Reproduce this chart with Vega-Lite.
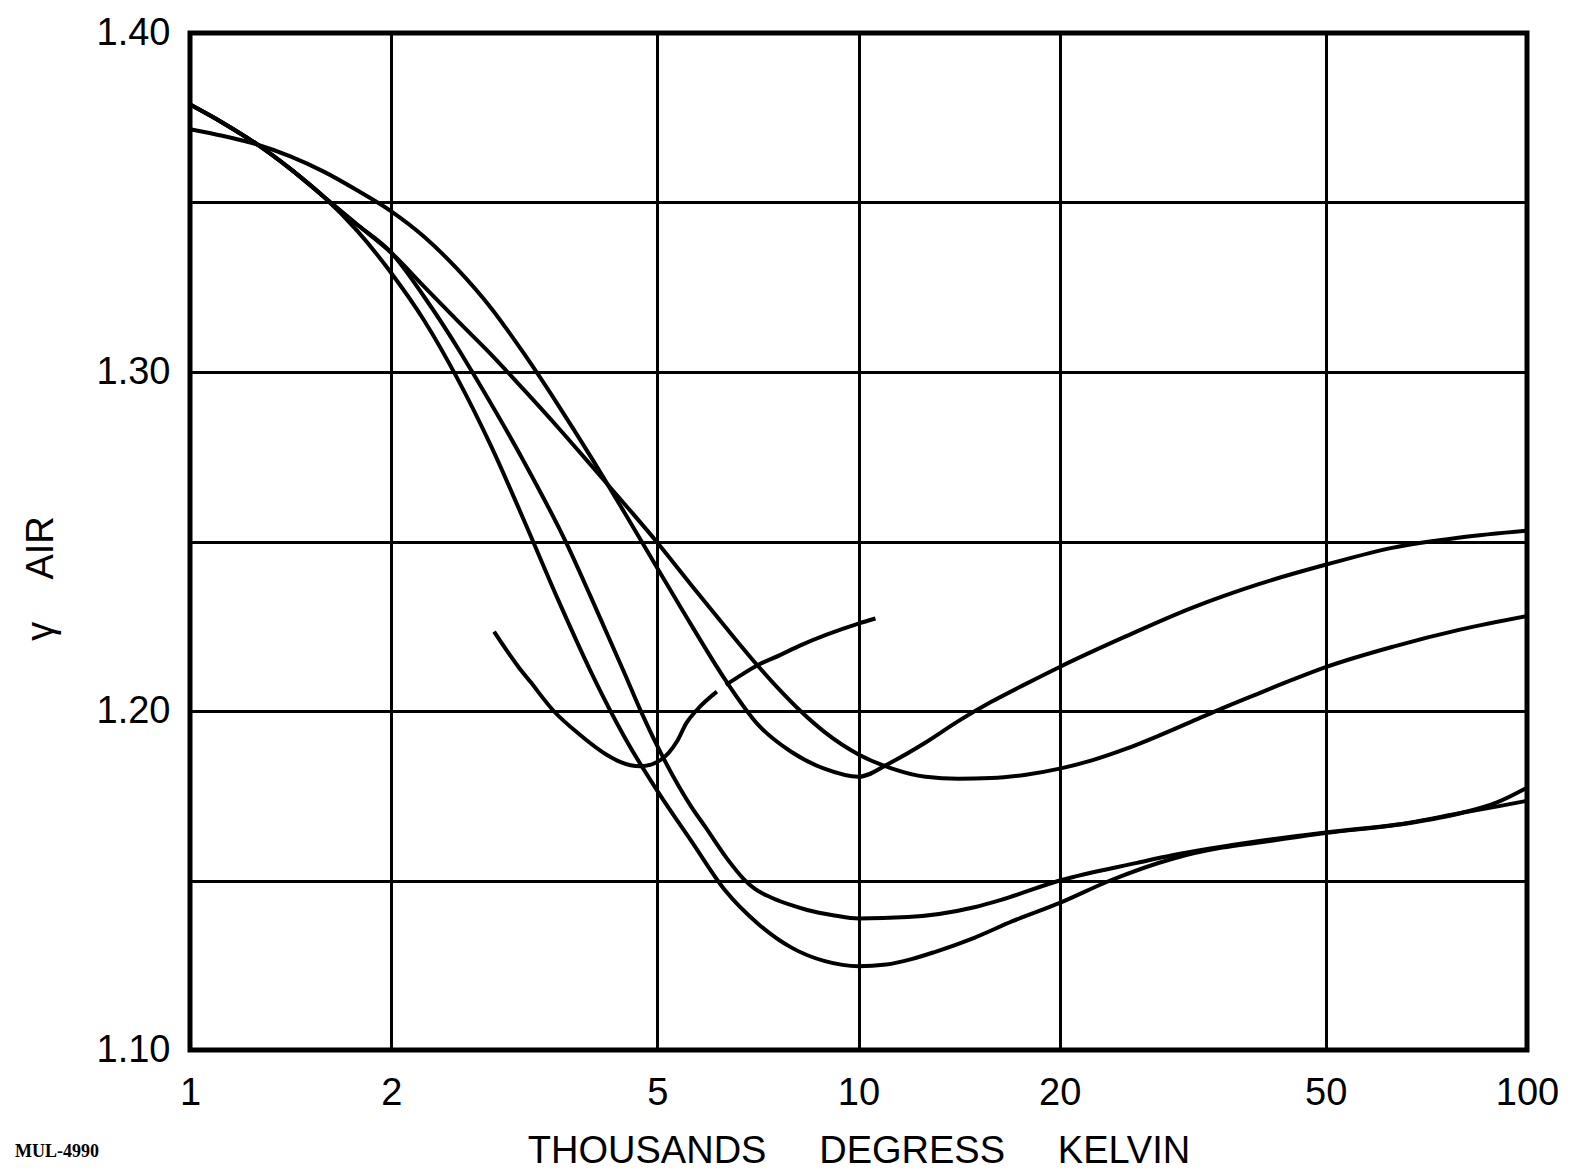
{
  "$schema": "https://vega.github.io/schema/vega-lite/v6.json",
  "width": 1337,
  "height": 1017,
  "autosize": {"type": "none"},
  "padding": {"left": 190, "top": 33, "right": 58, "bottom": 124},
  "background": "white",
  "title": {"text": "MUL-4990", "orient": "bottom", "anchor": "start", "frame": "group", "font": "Liberation Serif", "fontSize": 18, "fontWeight": "bold", "color": "black", "dx": -175, "offset": -13, "baseline": "alphabetic"},
  "config": {"view": {"stroke": "black", "strokeWidth": 5}, "font": "Liberation Sans"},
  "data": {"values": [
    {"c": "U1", "t": 1, "g": 1.3716},
    {"c": "U1", "t": 1.122, "g": 1.3696},
    {"c": "U1", "t": 1.259, "g": 1.3671},
    {"c": "U1", "t": 1.413, "g": 1.3636},
    {"c": "U1", "t": 1.585, "g": 1.3591},
    {"c": "U1", "t": 1.778, "g": 1.3536},
    {"c": "U1", "t": 2, "g": 1.3474},
    {"c": "U1", "t": 2.24, "g": 1.3399},
    {"c": "U1", "t": 2.51, "g": 1.3304},
    {"c": "U1", "t": 2.82, "g": 1.3189},
    {"c": "U1", "t": 3.16, "g": 1.3054},
    {"c": "U1", "t": 3.55, "g": 1.2904},
    {"c": "U1", "t": 3.98, "g": 1.2749},
    {"c": "U1", "t": 4.47, "g": 1.2584},
    {"c": "U1", "t": 5.01, "g": 1.2419},
    {"c": "U1", "t": 5.62, "g": 1.2254},
    {"c": "U1", "t": 6.31, "g": 1.2094},
    {"c": "U1", "t": 7.08, "g": 1.1959},
    {"c": "U1", "t": 7.94, "g": 1.1879},
    {"c": "U1", "t": 8.91, "g": 1.1829},
    {"c": "U1", "t": 10, "g": 1.1806},
    {"c": "U1", "t": 11.2, "g": 1.1849},
    {"c": "U1", "t": 12.6, "g": 1.1907},
    {"c": "U1", "t": 14.1, "g": 1.1970},
    {"c": "U1", "t": 15.8, "g": 1.2027},
    {"c": "U1", "t": 17.8, "g": 1.2080},
    {"c": "U1", "t": 20, "g": 1.2130},
    {"c": "U1", "t": 25.1, "g": 1.2220},
    {"c": "U1", "t": 31.6, "g": 1.2305},
    {"c": "U1", "t": 39.8, "g": 1.2375},
    {"c": "U1", "t": 50.1, "g": 1.2432},
    {"c": "U1", "t": 63.1, "g": 1.2482},
    {"c": "U1", "t": 79.4, "g": 1.2512},
    {"c": "U1", "t": 100, "g": 1.2532},
    {"c": "U2", "t": 1, "g": 1.3789},
    {"c": "U2", "t": 1.122, "g": 1.3734},
    {"c": "U2", "t": 1.259, "g": 1.3672},
    {"c": "U2", "t": 1.413, "g": 1.3599},
    {"c": "U2", "t": 1.585, "g": 1.3517},
    {"c": "U2", "t": 1.778, "g": 1.3435},
    {"c": "U2", "t": 2, "g": 1.3352},
    {"c": "U2", "t": 2.24, "g": 1.3252},
    {"c": "U2", "t": 2.51, "g": 1.3152},
    {"c": "U2", "t": 2.82, "g": 1.3052},
    {"c": "U2", "t": 3.16, "g": 1.2947},
    {"c": "U2", "t": 3.55, "g": 1.2837},
    {"c": "U2", "t": 3.98, "g": 1.2725},
    {"c": "U2", "t": 4.47, "g": 1.2610},
    {"c": "U2", "t": 5.01, "g": 1.2495},
    {"c": "U2", "t": 5.62, "g": 1.2372},
    {"c": "U2", "t": 6.31, "g": 1.2250},
    {"c": "U2", "t": 7.08, "g": 1.2132},
    {"c": "U2", "t": 7.59, "g": 1.2066},
    {"c": "U2", "t": 8.19, "g": 1.2000},
    {"c": "U2", "t": 8.91, "g": 1.1937},
    {"c": "U2", "t": 10, "g": 1.1872},
    {"c": "U2", "t": 11.2, "g": 1.1831},
    {"c": "U2", "t": 12.6, "g": 1.1806},
    {"c": "U2", "t": 14.1, "g": 1.1800},
    {"c": "U2", "t": 15.8, "g": 1.1802},
    {"c": "U2", "t": 17.8, "g": 1.1812},
    {"c": "U2", "t": 20, "g": 1.1830},
    {"c": "U2", "t": 22.4, "g": 1.1855},
    {"c": "U2", "t": 25.1, "g": 1.1888},
    {"c": "U2", "t": 28.2, "g": 1.1928},
    {"c": "U2", "t": 31.6, "g": 1.1970},
    {"c": "U2", "t": 35.5, "g": 1.2013},
    {"c": "U2", "t": 39.8, "g": 1.2053},
    {"c": "U2", "t": 44.7, "g": 1.2093},
    {"c": "U2", "t": 50.1, "g": 1.2130},
    {"c": "U2", "t": 63.1, "g": 1.2190},
    {"c": "U2", "t": 79.4, "g": 1.2240},
    {"c": "U2", "t": 100, "g": 1.2280},
    {"c": "L1", "t": 1, "g": 1.3789},
    {"c": "L1", "t": 1.122, "g": 1.3734},
    {"c": "L1", "t": 1.259, "g": 1.3672},
    {"c": "L1", "t": 1.413, "g": 1.3599},
    {"c": "L1", "t": 1.585, "g": 1.3517},
    {"c": "L1", "t": 1.778, "g": 1.3435},
    {"c": "L1", "t": 2, "g": 1.3352},
    {"c": "L1", "t": 2.24, "g": 1.3222},
    {"c": "L1", "t": 2.54, "g": 1.3057},
    {"c": "L1", "t": 2.64, "g": 1.3002},
    {"c": "L1", "t": 3.16, "g": 1.2735},
    {"c": "L1", "t": 3.64, "g": 1.2503},
    {"c": "L1", "t": 3.98, "g": 1.2335},
    {"c": "L1", "t": 4.47, "g": 1.2110},
    {"c": "L1", "t": 4.72, "g": 1.2002},
    {"c": "L1", "t": 5, "g": 1.1897},
    {"c": "L1", "t": 5.62, "g": 1.1718},
    {"c": "L1", "t": 5.9, "g": 1.1658},
    {"c": "L1", "t": 6.35, "g": 1.1566},
    {"c": "L1", "t": 6.73, "g": 1.1505},
    {"c": "L1", "t": 7.0, "g": 1.1475},
    {"c": "L1", "t": 7.4, "g": 1.1450},
    {"c": "L1", "t": 8.0, "g": 1.1425},
    {"c": "L1", "t": 8.38, "g": 1.1413},
    {"c": "L1", "t": 9.2, "g": 1.1397},
    {"c": "L1", "t": 10, "g": 1.1388},
    {"c": "L1", "t": 11.85, "g": 1.1392},
    {"c": "L1", "t": 14.9, "g": 1.1421},
    {"c": "L1", "t": 16.3, "g": 1.1442},
    {"c": "L1", "t": 20, "g": 1.1500},
    {"c": "L1", "t": 26.1, "g": 1.1552},
    {"c": "L1", "t": 29.6, "g": 1.1575},
    {"c": "L1", "t": 40, "g": 1.1617},
    {"c": "L1", "t": 50, "g": 1.1642},
    {"c": "L1", "t": 66, "g": 1.1669},
    {"c": "L1", "t": 80, "g": 1.1700},
    {"c": "L1", "t": 90, "g": 1.1718},
    {"c": "L1", "t": 100, "g": 1.1735},
    {"c": "L2", "t": 1, "g": 1.3789},
    {"c": "L2", "t": 1.122, "g": 1.3734},
    {"c": "L2", "t": 1.259, "g": 1.3672},
    {"c": "L2", "t": 1.413, "g": 1.3599},
    {"c": "L2", "t": 1.585, "g": 1.3517},
    {"c": "L2", "t": 1.778, "g": 1.3417},
    {"c": "L2", "t": 2, "g": 1.3292},
    {"c": "L2", "t": 2.24, "g": 1.3152},
    {"c": "L2", "t": 2.51, "g": 1.2982},
    {"c": "L2", "t": 2.82, "g": 1.2782},
    {"c": "L2", "t": 3.16, "g": 1.2562},
    {"c": "L2", "t": 3.55, "g": 1.2330},
    {"c": "L2", "t": 3.98, "g": 1.2115},
    {"c": "L2", "t": 4.47, "g": 1.1922},
    {"c": "L2", "t": 5.01, "g": 1.1762},
    {"c": "L2", "t": 5.62, "g": 1.1617},
    {"c": "L2", "t": 6.31, "g": 1.1472},
    {"c": "L2", "t": 7.08, "g": 1.1372},
    {"c": "L2", "t": 7.94, "g": 1.1302},
    {"c": "L2", "t": 8.91, "g": 1.1262},
    {"c": "L2", "t": 10, "g": 1.1247},
    {"c": "L2", "t": 11, "g": 1.1252},
    {"c": "L2", "t": 12, "g": 1.1268},
    {"c": "L2", "t": 13, "g": 1.1289},
    {"c": "L2", "t": 14.9, "g": 1.1331},
    {"c": "L2", "t": 17, "g": 1.1380},
    {"c": "L2", "t": 20, "g": 1.1434},
    {"c": "L2", "t": 23.8, "g": 1.1500},
    {"c": "L2", "t": 29.6, "g": 1.1565},
    {"c": "L2", "t": 35, "g": 1.1597},
    {"c": "L2", "t": 40, "g": 1.1613},
    {"c": "L2", "t": 50, "g": 1.1640},
    {"c": "L2", "t": 66, "g": 1.1668},
    {"c": "L2", "t": 80, "g": 1.1700},
    {"c": "L2", "t": 90, "g": 1.1730},
    {"c": "L2", "t": 100, "g": 1.1774},
    {"c": "H1", "t": 2.85, "g": 1.2234},
    {"c": "H1", "t": 3.1, "g": 1.2130},
    {"c": "H1", "t": 3.23, "g": 1.2086},
    {"c": "H1", "t": 3.5, "g": 1.2000},
    {"c": "H1", "t": 3.83, "g": 1.1930},
    {"c": "H1", "t": 4.2, "g": 1.1871},
    {"c": "H1", "t": 4.4, "g": 1.1850},
    {"c": "H1", "t": 4.56, "g": 1.1840},
    {"c": "H1", "t": 4.72, "g": 1.1837},
    {"c": "H1", "t": 5.06, "g": 1.1856},
    {"c": "H1", "t": 5.35, "g": 1.1910},
    {"c": "H1", "t": 5.53, "g": 1.1965},
    {"c": "H1", "t": 5.73, "g": 1.2003},
    {"c": "H1", "t": 6.14, "g": 1.2057},
    {"c": "H2", "t": 6.33, "g": 1.2077},
    {"c": "H2", "t": 6.6, "g": 1.2100},
    {"c": "H2", "t": 7.06, "g": 1.2135},
    {"c": "H2", "t": 7.63, "g": 1.2165},
    {"c": "H2", "t": 8.17, "g": 1.2193},
    {"c": "H2", "t": 10, "g": 1.2258},
    {"c": "H2", "t": 10.6, "g": 1.2273}
  ]},
  "mark": {"type": "line", "color": "black", "strokeWidth": 4, "interpolate": "monotone"},
  "encoding": {
    "x": {
      "field": "t", "type": "quantitative",
      "scale": {"type": "log", "domain": [1, 100], "nice": false},
      "axis": {
        "values": [1, 2, 5, 10, 20, 50, 100], "format": "d",
        "title": "THOUSANDS\u00a0\u00a0\u00a0\u00a0\u00a0DEGRESS\u00a0\u00a0\u00a0\u00a0\u00a0KELVIN",
        "ticks": false, "domain": false, "grid": true,
        "gridColor": "black", "gridWidth": 3, "gridOpacity": 1,
        "labelFont": "Liberation Sans", "labelFontSize": 38, "labelColor": "black",
        "labelPadding": 24, "labelFlush": false, "labelOverlap": false,
        "titleFont": "Liberation Sans", "titleFontSize": 38, "titleFontWeight": "normal", "titleColor": "black",
        "titleY": 112, "titleBaseline": "alphabetic"
      }
    },
    "y": {
      "field": "g", "type": "quantitative",
      "scale": {"domain": [1.1, 1.4], "nice": false, "zero": false},
      "axis": {
        "values": [1.1, 1.15, 1.2, 1.25, 1.3, 1.35, 1.4],
        "labelExpr": "round(datum.value*100) % 10 == 0 ? format(datum.value, '.2f') : ''",
        "title": "γ\u00a0\u00a0\u00a0\u00a0AIR",
        "ticks": false, "domain": false, "grid": true,
        "gridColor": "black", "gridWidth": 3, "gridOpacity": 1,
        "labelFont": "Liberation Sans", "labelFontSize": 38, "labelColor": "black",
        "labelPadding": 20, "labelFlush": false, "labelOverlap": false,
        "titleFont": "Liberation Sans", "titleFontSize": 38, "titleFontWeight": "normal", "titleColor": "black",
        "titleX": -149, "titleY": 545, "titleAngle": -90, "titleAlign": "center", "titleBaseline": "middle"
      }
    },
    "detail": {"field": "c"}
  }
}
